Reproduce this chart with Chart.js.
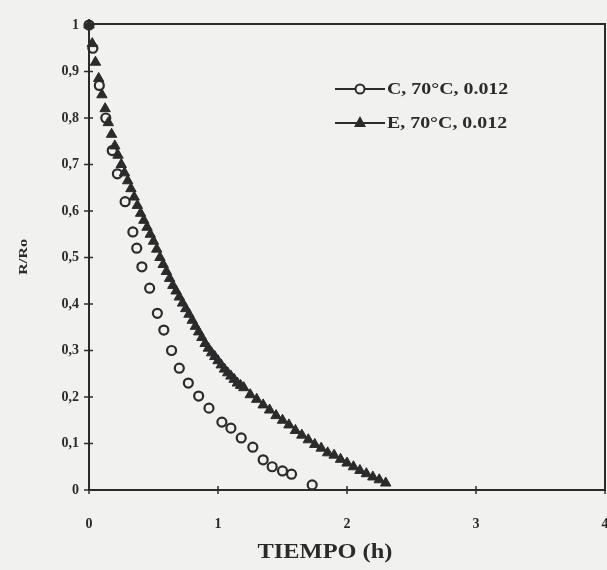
<!DOCTYPE html>
<html>
<head>
<meta charset="utf-8">
<script src="https://cdn.jsdelivr.net/npm/chart.js@4.4.1/dist/chart.umd.min.js"></script>
<style>
  html, body { margin: 0; padding: 0; background: #f1f1ef; }
  canvas { display: block; }
</style>
</head>
<body>
<canvas id="chart" width="607" height="570"></canvas>
<script>
// Series C, 70°C (open circles)
const cTime  = [0, 0.03, 0.08, 0.13, 0.18, 0.22, 0.28, 0.34, 0.37, 0.41, 0.47, 0.53, 0.58, 0.64, 0.70, 0.77, 0.85, 0.93, 1.03, 1.10, 1.18, 1.27, 1.35, 1.42, 1.50, 1.57, 1.73];
const cValue = [1.0, 0.95, 0.87, 0.80, 0.73, 0.68, 0.62, 0.555, 0.52, 0.48, 0.434, 0.38, 0.344, 0.30, 0.262, 0.23, 0.202, 0.176, 0.146, 0.133, 0.112, 0.092, 0.065, 0.05, 0.041, 0.034, 0.011];

// Series E, 70°C (filled triangles) - dense band
const eTime  = [0, 0.025, 0.05, 0.075, 0.10, 0.125, 0.15, 0.175, 0.20, 0.225, 0.25, 0.275,
    0.30, 0.325, 0.35, 0.375, 0.40, 0.425, 0.45, 0.475, 0.50, 0.525, 0.55, 0.575,
    0.60, 0.625, 0.65, 0.675, 0.70, 0.725, 0.75, 0.775, 0.80, 0.825, 0.85, 0.875,
    0.90, 0.925, 0.95, 0.975, 1.00, 1.025, 1.05, 1.075, 1.10, 1.125, 1.15, 1.175,
    1.20, 1.25, 1.30, 1.35, 1.40, 1.45, 1.50, 1.55, 1.60, 1.65, 1.70, 1.75,
    1.80, 1.85, 1.90, 1.95, 2.00, 2.05, 2.10, 2.15, 2.20, 2.25, 2.30];
const eValue = [1.0, 0.96, 0.92, 0.885, 0.85, 0.82, 0.79, 0.765, 0.74, 0.72, 0.70, 0.682,
    0.665, 0.648, 0.63, 0.612, 0.595, 0.58, 0.565, 0.55, 0.535, 0.518, 0.50, 0.485,
    0.47, 0.455, 0.44, 0.428, 0.415, 0.402, 0.39, 0.378, 0.365, 0.352, 0.34, 0.328,
    0.315, 0.305, 0.295, 0.287, 0.278, 0.269, 0.26, 0.252, 0.245, 0.238, 0.23, 0.225,
    0.22, 0.205, 0.195, 0.183, 0.172, 0.16, 0.15, 0.14, 0.128, 0.118, 0.108, 0.098,
    0.09, 0.08, 0.075, 0.066, 0.058, 0.05, 0.042, 0.035, 0.028, 0.022, 0.015];

const seriesLabels = ['C, 70°C, 0.012', 'E, 70°C, 0.012'];
const xTicks = [0, 1, 2, 3, 4];
const yTicks = [0, 0.1, 0.2, 0.3, 0.4, 0.5, 0.6, 0.7, 0.8, 0.9, 1];

const ink = '#2b2b2b';
const paper = '#f1f1ef';
const serif = '"Liberation Serif", "DejaVu Serif", serif';

function toPoints(xs, ys) {
    return xs.map((x, i) => ({ x: x, y: ys[i] }));
}

// text drawn a bit wider than the font, like the scanned figure
function wideText(c, text, x, y, stretch) {
    c.save();
    c.translate(x, y);
    c.scale(stretch, 1);
    c.fillText(text, 0, 0);
    c.restore();
}

// paper background, frame, tick crosses, titles and legend
const decor = {
    id: 'decor',
    beforeDraw(chart) {
        const c = chart.ctx;
        c.save();
        c.fillStyle = paper;
        c.fillRect(0, 0, chart.width, chart.height);
        c.restore();
    },
    afterDatasetsDraw(chart) {
        const c = chart.ctx;
        const a = chart.chartArea;
        const xs = chart.scales.x, ys = chart.scales.y;
        c.save();
        c.strokeStyle = ink;
        c.lineWidth = 2;
        // top and right frame
        c.beginPath();
        c.moveTo(a.left, a.top - 1);
        c.lineTo(a.right, a.top - 1);
        c.lineTo(a.right, a.bottom);
        c.stroke();
        // tick crosses
        c.lineWidth = 1.5;
        yTicks.forEach(v => {
            const py = ys.getPixelForValue(v);
            c.beginPath();
            c.moveTo(a.left - 5, py);
            c.lineTo(a.left + 4, py);
            c.stroke();
        });
        xTicks.forEach(v => {
            const px = xs.getPixelForValue(v);
            c.beginPath();
            c.moveTo(px, a.bottom - 4);
            c.lineTo(px, a.bottom + 4);
            c.stroke();
        });

        // axis titles
        c.fillStyle = ink;
        c.textAlign = 'center';
        c.textBaseline = 'middle';
        c.font = 'bold 20px ' + serif;
        wideText(c, 'TIEMPO (h)', 325, 553, 1.22);
        c.save();
        c.translate(24, 257);
        c.rotate(-Math.PI / 2);
        c.font = 'bold 12px ' + serif;
        wideText(c, 'R/Ro', 0, 0, 1.35);
        c.restore();

        // legend with line + marker
        const lx = 335, ly = [89, 123];
        chart.data.datasets.forEach((ds, i) => {
            const y = ly[i];
            c.strokeStyle = ink;
            c.lineWidth = 2;
            c.beginPath();
            c.moveTo(lx, y);
            c.lineTo(lx + 50, y);
            c.stroke();
            if (ds.pointStyle === 'circle') {
                c.fillStyle = paper;
                c.beginPath();
                c.arc(lx + 25, y, 4.5, 0, Math.PI * 2);
                c.fill();
                c.stroke();
            } else {
                c.fillStyle = ink;
                c.beginPath();
                c.moveTo(lx + 25, y - 7);
                c.lineTo(lx + 31, y + 4);
                c.lineTo(lx + 19, y + 4);
                c.closePath();
                c.fill();
            }
            c.fillStyle = ink;
            c.font = 'bold 17px ' + serif;
            c.textAlign = 'left';
            c.textBaseline = 'middle';
            wideText(c, ds.label, lx + 52, y + 1, 1.17);
        });
        c.restore();
    }
};

const ctx = document.getElementById('chart').getContext('2d');
const chart = new Chart(ctx, {
    type: 'scatter',
    data: {
        datasets: [{
            label: seriesLabels[0],
            data: toPoints(cTime, cValue),
            pointStyle: 'circle',
            pointRadius: 4.5,
            pointBorderWidth: 2.2,
            borderColor: ink,
            backgroundColor: 'rgba(0,0,0,0)',
            showLine: false,
            clip: false
        }, {
            label: seriesLabels[1],
            data: toPoints(eTime, eValue),
            pointStyle: 'triangle',
            pointRadius: 6,
            pointBorderWidth: 1,
            borderColor: ink,
            backgroundColor: ink,
            showLine: false,
            clip: false
        }]
    },
    options: {
        responsive: false,
        animation: false,
        devicePixelRatio: 1,
        layout: {
            autoPadding: false,
            padding: { top: 25, right: 2, left: 0, bottom: 0 }
        },
        plugins: {
            legend: { display: false },
            tooltip: { enabled: false }
        },
        scales: {
            x: {
                type: 'linear',
                min: 0,
                max: 4,
                afterFit(s) { s.height = 80; s.paddingLeft = 0; s.paddingRight = 0; },
                afterBuildTicks(s) { s.ticks = xTicks.map(v => ({ value: v })); },
                grid: { display: false, drawTicks: false },
                border: { display: true, color: ink, width: 2 },
                ticks: {
                    padding: 26,
                    color: ink,
                    maxRotation: 0,
                    font: { family: serif, size: 14, weight: 'bold' }
                }
            },
            y: {
                type: 'linear',
                min: 0,
                max: 1,
                afterFit(s) { s.width = 89; s.paddingTop = 0; s.paddingBottom = 0; },
                afterBuildTicks(s) { s.ticks = yTicks.map(v => ({ value: v })); },
                grid: { display: false, drawTicks: false },
                border: { display: true, color: ink, width: 2 },
                ticks: {
                    padding: 10,
                    color: ink,
                    font: { family: serif, size: 14, weight: 'bold' },
                    callback: v => (v === 0 || v === 1) ? String(v) : v.toFixed(1).replace('.', ',')
                }
            }
        }
    },
    plugins: [decor]
});
</script>
</body>
</html>
